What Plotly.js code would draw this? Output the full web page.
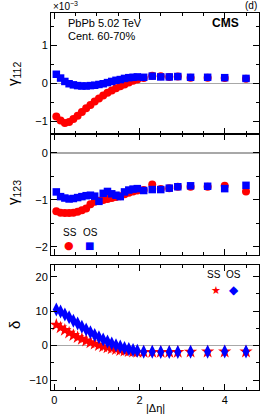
<!DOCTYPE html>
<html>
<head>
<meta charset="utf-8">
<script src="https://cdn.plot.ly/plotly-3.0.1.min.js"></script>
<style>html,body{margin:0;padding:0;background:#fff;}#chart{width:266px;height:418px;}</style>
</head>
<body>
<div id="chart"></div>
<script>
// |Δη| bin centres
const deta = [0.05,0.15,0.25,0.35,0.45,0.55,0.65,0.75,0.85,0.95,1.05,1.15,1.25,1.35,1.45,1.55,1.65,1.75,1.85,1.95,2.1,2.3,2.5,2.7,2.9,3.2,3.6,4.0,4.5];
// gamma112 (x 1e-3)
const g112_SS = [-0.88,-0.98,-1.05,-1.02,-0.94,-0.86,-0.76,-0.66,-0.57,-0.48,-0.40,-0.32,-0.25,-0.19,-0.13,-0.08,-0.03,0.02,0.07,0.10,0.14,0.20,0.19,0.17,0.18,0.15,0.15,0.14,0.12];
const g112_OS = [0.24,0.14,0.05,-0.01,-0.04,-0.06,-0.07,-0.07,-0.06,-0.05,-0.03,-0.01,0.02,0.05,0.08,0.10,0.13,0.15,0.16,0.17,0.16,0.19,0.17,0.17,0.18,0.16,0.16,0.15,0.13];
// gamma123 (x 1e-3)
const g123_SS = [-1.24,-1.27,-1.28,-1.28,-1.27,-1.25,-1.22,-1.18,-1.09,-1.04,-1.02,-1.00,-0.98,-0.96,-0.94,-0.92,-0.88,-0.85,-0.82,-0.80,-0.79,-0.67,-0.77,-0.75,-0.72,-0.72,-0.72,-0.70,-0.82];
const g123_OS = [-0.83,-0.93,-0.96,-0.98,-0.97,-0.95,-0.93,-0.91,-0.90,-0.92,-1.03,-0.86,-0.82,-0.87,-0.90,-0.93,-0.83,-0.79,-0.77,-0.76,-0.80,-0.78,-0.78,-0.75,-0.72,-0.70,-0.71,-0.76,-0.69];
// delta
const d_SS = [6.0,5.2,4.5,3.7,3.0,2.4,1.9,1.4,0.9,0.5,0.1,-0.3,-0.6,-0.9,-1.1,-1.35,-1.55,-1.7,-1.8,-1.9,-1.9,-1.9,-1.9,-1.9,-1.9,-1.85,-1.8,-1.8,-1.8];
const d_OS = [10.5,9.9,9.0,8.2,7.2,6.4,5.5,4.7,3.9,3.1,2.4,1.8,1.2,0.6,0.1,-0.3,-0.7,-1.0,-1.3,-1.5,-1.8,-1.8,-1.9,-1.9,-1.9,-1.8,-1.8,-1.7,-1.7];
const labels = {ss: 'SS', os: 'OS'};

const RED = '#ff0000', BLUE = '#0000ff';
const FONT = 'Liberation Sans, Arial, sans-serif';

function tr(y, xa, ya, sym, col, size) {
  return {x: deta, y: y, xaxis: xa, yaxis: ya, type: 'scatter', mode: 'markers',
    marker: {symbol: sym, color: col, size: size, line: {width: 0}}, showlegend: false, hoverinfo: 'skip'};
}
const data = [
  tr(g112_SS, 'x3', 'y3', 'circle', RED, 8),
  tr(g112_OS, 'x3', 'y3', 'square', BLUE, 7.5),
  tr(g123_SS, 'x2', 'y2', 'circle', RED, 8),
  tr(g123_OS, 'x2', 'y2', 'square', BLUE, 7.5),
  tr(d_SS, 'x', 'y', 'star', RED, 10),
  tr(d_OS, 'x', 'y', 'diamond-tall', BLUE, 10)
];

const xr = [-0.075, 4.805];
function xax(anchor, labelsOn) {
  return {range: xr, anchor: anchor, showline: true, linecolor: '#000', linewidth: 1, mirror: 'allticks',
    ticks: 'inside', ticklen: 6, tickcolor: '#000', tickwidth: 1, dtick: 2, tick0: 0,
    minor: {dtick: 0.5, ticklen: 3, ticks: 'inside', tickcolor: '#000'},
    showticklabels: labelsOn, showgrid: false, zeroline: false,
    tickfont: {family: FONT, size: 11, color: '#000'}};
}
function yax(domain, range, dtick, mdtick, anchor) {
  return {domain: domain, range: range, anchor: anchor, showline: true, linecolor: '#000', linewidth: 1, mirror: 'allticks',
    ticks: 'inside', ticklen: 6, tickcolor: '#000', tickwidth: 1, dtick: dtick, tick0: 0,
    minor: {dtick: mdtick, ticklen: 3, ticks: 'inside', tickcolor: '#000'},
    showgrid: false, zeroline: true, zerolinecolor: '#a8a8a8', zerolinewidth: 1.5,
    tickfont: {family: FONT, size: 11, color: '#000'}};
}

const ann = [];
function txt(x, y, t, opts) {
  ann.push(Object.assign({xref: 'paper', yref: 'paper', x: x, y: y, text: t, showarrow: false,
    font: {family: FONT, size: 11, color: '#000'}, xanchor: 'center', yanchor: 'middle'}, opts || {}));
}
// pixel helpers (plot area: left 51, width 208, top 13, height 377)
const px = v => (v - 51) / 208;
const py = v => (390 - v) / 377;
txt(px(51), py(6), '×10<sup>−3</sup>', {xanchor: 'left', font: {family: FONT, size: 10, color: '#000'}});
txt(px(259), py(6), '(d)', {xanchor: 'right', font: {family: FONT, size: 10, color: '#000'}});
txt(px(66), py(23), 'PbPb 5.02 TeV', {xanchor: 'left'});
txt(px(66), py(36), 'Cent. 60-70%', {xanchor: 'left'});
txt(px(241), py(23), '<b>CMS</b>', {xanchor: 'right', font: {family: FONT, size: 12, color: '#000'}});
txt(px(13), py(74), 'γ<sub>112</sub>', {textangle: -90, font: {family: FONT, size: 15, color: '#000'}});
txt(px(13), py(193), 'γ<sub>123</sub>', {textangle: -90, font: {family: FONT, size: 15, color: '#000'}});
txt(px(14), py(325), 'δ', {textangle: -90, font: {family: FONT, size: 15, color: '#000'}});
txt(px(155), py(408), '|Δη|', {font: {family: FONT, size: 11, color: '#000'}});
// legends
const LF = {family: FONT, size: 10, color: '#000'};
txt(px(70), py(232), labels.ss, {font: LF});
txt(px(90), py(232), labels.os, {font: LF});
txt(px(69), py(245), '●', {font: {family: 'DejaVu Sans', size: 11, color: RED}});
txt(px(89), py(245), '■', {font: {family: 'DejaVu Sans', size: 10, color: BLUE}});
txt(px(214), py(275), labels.ss, {font: LF});
txt(px(233.5), py(275), labels.os, {font: LF});
txt(px(215.5), py(290), '★', {font: {family: 'DejaVu Sans', size: 11, color: RED}});
txt(px(234), py(290), '◆', {font: {family: 'DejaVu Sans', size: 12, color: BLUE}});

const layout = {
  width: 266, height: 418,
  margin: {l: 51, r: 7, t: 13, b: 28, pad: 0},
  paper_bgcolor: '#fff', plot_bgcolor: '#fff',
  showlegend: false,
  xaxis: xax('y', true),
  xaxis2: Object.assign(xax('y2', false), {matches: 'x'}),
  xaxis3: Object.assign(xax('y3', false), {matches: 'x'}),
  yaxis: yax([0, 0.3316], [-12.9, 23.4], 10, 5, 'x'),
  yaxis2: yax([0.3581, 0.6790], [-2.17, 0.40], 1, 0.5, 'x2'),
  yaxis3: yax([0.6790, 1], [-1.34, 1.86], 1, 0.5, 'x3'),
  annotations: ann
};
Plotly.newPlot('chart', data, layout, {staticPlot: true, displayModeBar: false});
</script>
</body>
</html>
